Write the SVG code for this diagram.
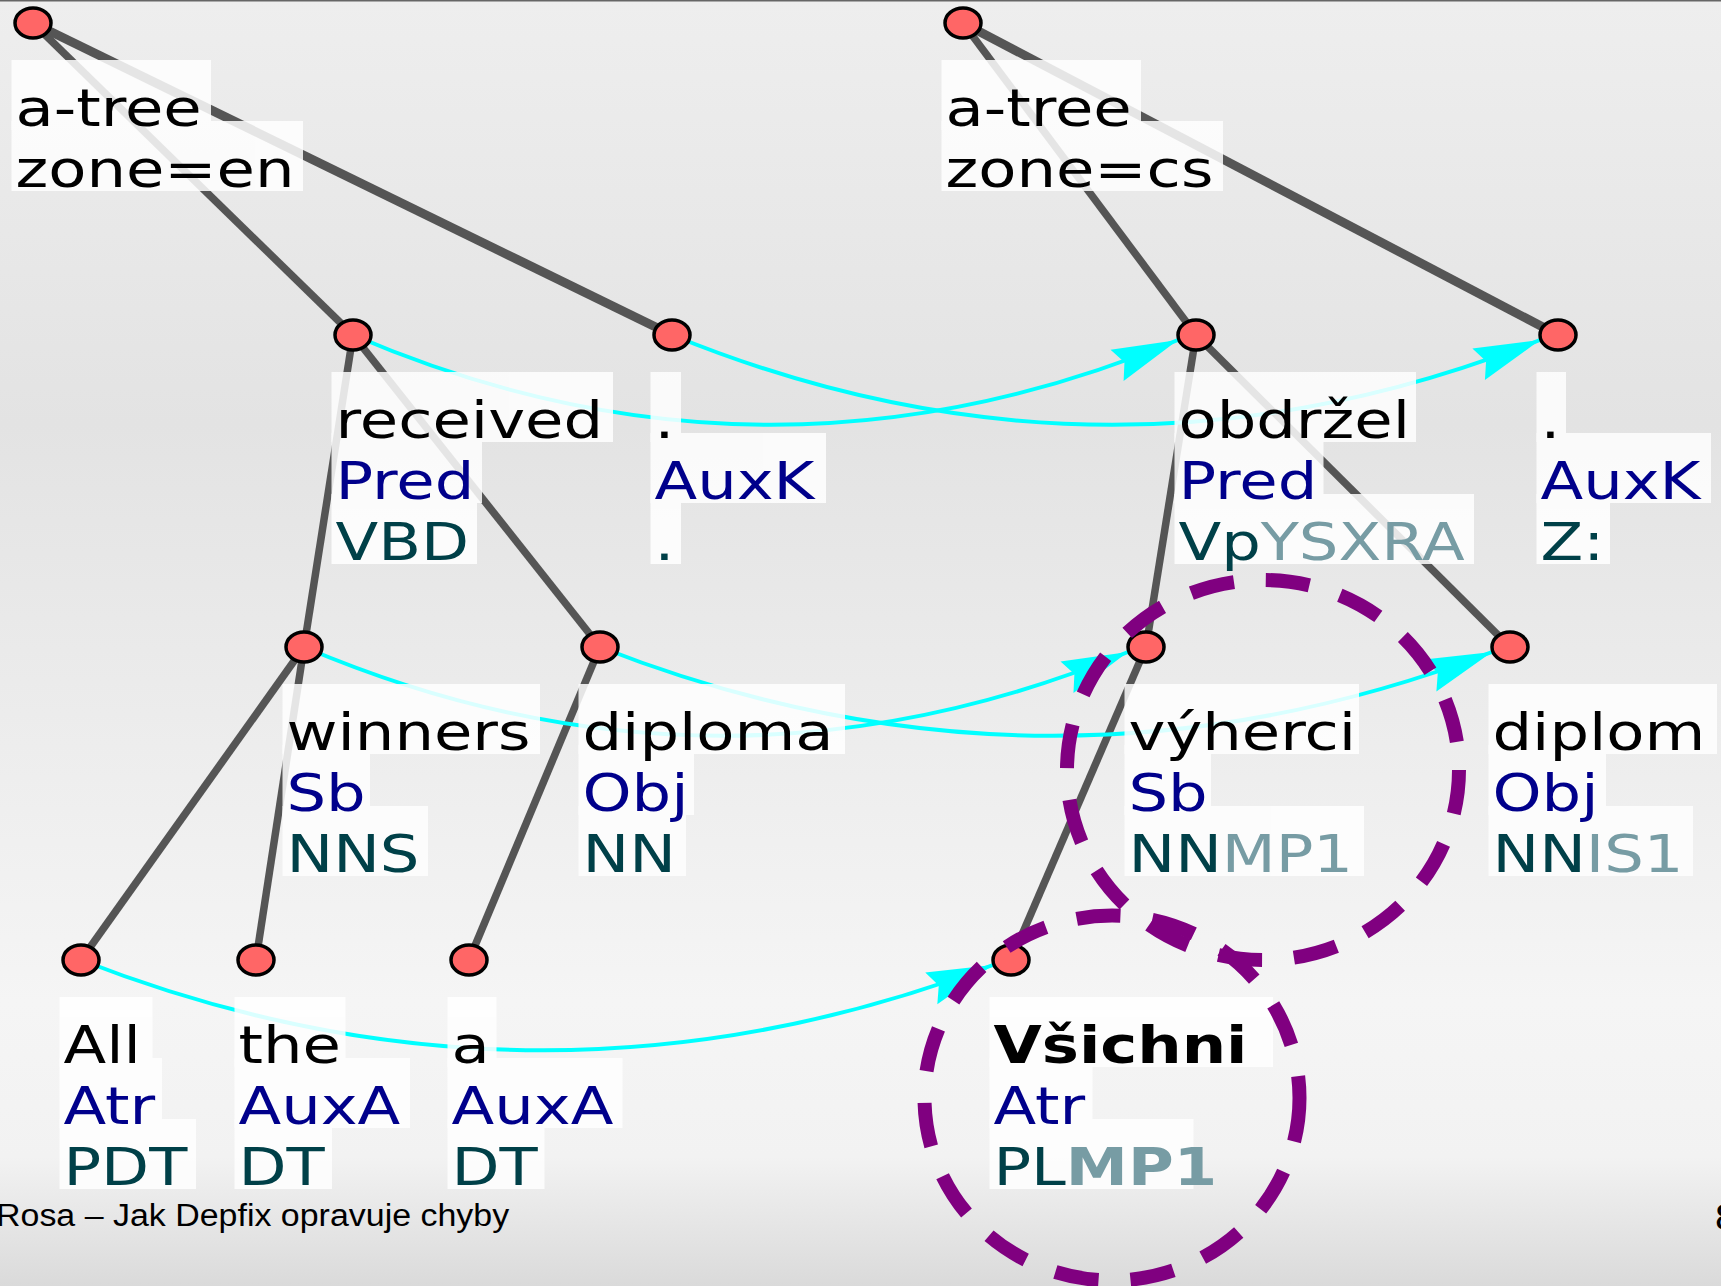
<svg xmlns="http://www.w3.org/2000/svg" width="1721" height="1286" viewBox="0 0 1721 1286">
<defs>
<linearGradient id="bg" x1="0" y1="0" x2="0" y2="1">
<stop offset="0" stop-color="#eeeeee"/>
<stop offset="0.33" stop-color="#e3e3e3"/>
<stop offset="0.78" stop-color="#f5f5f5"/>
<stop offset="0.9" stop-color="#f2f2f2"/>
<stop offset="1" stop-color="#dadada"/>
</linearGradient>
<marker id="arr" markerUnits="userSpaceOnUse" markerWidth="70" markerHeight="36" refX="66" refY="17" orient="auto" overflow="visible">
<path d="M0,0 L66,17 L0,34 L8,17 Z" fill="#00ffff"/>
</marker>
<style>
.edge{stroke:#555555;stroke-width:7.5;fill:none}
.wide{stroke-width:9}
.align{stroke:#00ffff;stroke-width:4;fill:none;marker-end:url(#arr)}
.boxes{opacity:0.85}
.boxes rect{fill:#ffffff}
.nd{fill:#ff6666;stroke:#000000;stroke-width:3.5}
text{font-family:"DejaVu Sans",sans-serif;font-size:52px}
.f{fill:#000000}
.a{fill:#00008b}
.t{fill:#004048}
.g{fill:#779ca4}
.b{font-weight:bold}
.ring{fill:none;stroke:#800080;stroke-width:14;stroke-dasharray:44 32}
.foot1{font-family:"Liberation Sans",Arial,sans-serif;font-size:31px;fill:#000000}
.foot2{font-family:"Liberation Sans",Arial,sans-serif;font-size:37px;fill:#000000}
</style>
</defs>
<rect x="0" y="0" width="1721" height="1286" fill="url(#bg)"/>
<rect x="0" y="0" width="1721" height="1.5" fill="#666666"/>

<g id="connectors">
<line class="edge" x1="33" y1="23" x2="353" y2="335"/>
<line class="edge wide" x1="33" y1="23" x2="672" y2="335"/>
<line class="edge" x1="353" y1="335" x2="304" y2="647"/>
<line class="edge" x1="353" y1="335" x2="600" y2="647"/>
<line class="edge" x1="304" y1="647" x2="81" y2="960"/>
<line class="edge" x1="304" y1="647" x2="256" y2="960"/>
<line class="edge" x1="600" y1="647" x2="469" y2="960"/>
<line class="edge" x1="963" y1="23" x2="1196" y2="335"/>
<line class="edge wide" x1="963" y1="23" x2="1558" y2="335"/>
<line class="edge" x1="1196" y1="335" x2="1146" y2="647"/>
<line class="edge" x1="1196" y1="335" x2="1510" y2="647"/>
<line class="edge" x1="1146" y1="647" x2="1011" y2="960"/>
<path class="align" d="M353,335 Q765,512 1178,340"/>
<path class="align" d="M672,335 Q1106,512 1540,340"/>
<path class="align" d="M304,647 Q716,822 1128,652"/>
<path class="align" d="M600,647 Q1046,822 1492,652"/>
<path class="align" d="M81,960 Q537,1138 993,965"/>
</g>

<g id="n-root-en">
<g class="boxes"><rect x="11.5" y="60" width="199.5" height="70"/><rect x="11.5" y="121" width="291.5" height="70"/></g>
<ellipse class="nd" cx="33" cy="23" rx="18" ry="15"/>
<g transform="scale(1.2 1)"><text class="f" x="12.92" y="126">a-tree</text><text class="f" x="12.92" y="187">zone=en</text></g>
</g>

<g id="n-root-cs">
<g class="boxes"><rect x="941.5" y="60" width="199.5" height="70"/><rect x="941.5" y="121" width="281.5" height="70"/></g>
<ellipse class="nd" cx="963" cy="23" rx="18" ry="15"/>
<g transform="scale(1.2 1)"><text class="f" x="787.92" y="126">a-tree</text><text class="f" x="787.92" y="187">zone=cs</text></g>
</g>

<g id="n-received">
<g class="boxes"><rect x="331.5" y="372" width="281.5" height="70"/><rect x="331.5" y="433" width="150.5" height="70"/><rect x="331.5" y="494" width="145.5" height="70"/></g>
<ellipse class="nd" cx="353" cy="335" rx="18" ry="15"/>
<g transform="scale(1.2 1)"><text class="f" x="279.58" y="438">received</text><text class="a" x="279.58" y="499">Pred</text><text class="t" x="279.58" y="560">VBD</text></g>
</g>

<g id="n-period-en">
<g class="boxes"><rect x="650.5" y="372" width="30.5" height="70"/><rect x="650.5" y="433" width="175.5" height="70"/><rect x="650.5" y="494" width="30.5" height="70"/></g>
<ellipse class="nd" cx="672" cy="335" rx="18" ry="15"/>
<g transform="scale(1.2 1)"><text class="f" x="545.42" y="438">.</text><text class="a" x="545.42" y="499">AuxK</text><text class="t" x="545.42" y="560">.</text></g>
</g>

<g id="n-obdrzel">
<g class="boxes"><rect x="1174.5" y="372" width="241.5" height="70"/><rect x="1174.5" y="433" width="149" height="70"/><rect x="1174.5" y="494" width="299.5" height="70"/></g>
<ellipse class="nd" cx="1196" cy="335" rx="18" ry="15"/>
<g transform="scale(1.2 1)"><text class="f" x="982.08" y="438">obdržel</text><text class="a" x="982.08" y="499">Pred</text><text class="t" x="982.08" y="560">Vp<tspan class="g">YSXRA</tspan></text></g>
</g>

<g id="n-period-cs">
<g class="boxes"><rect x="1536.5" y="372" width="29.5" height="70"/><rect x="1536.5" y="433" width="174.5" height="70"/><rect x="1536.5" y="494" width="73.5" height="70"/></g>
<ellipse class="nd" cx="1558" cy="335" rx="18" ry="15"/>
<g transform="scale(1.2 1)"><text class="f" x="1283.75" y="438">.</text><text class="a" x="1283.75" y="499">AuxK</text><text class="t" x="1283.75" y="560">Z:</text></g>
</g>

<g id="n-winners">
<g class="boxes"><rect x="282.5" y="684" width="257.5" height="70"/><rect x="282.5" y="745" width="87.5" height="70"/><rect x="282.5" y="806" width="145.5" height="70"/></g>
<ellipse class="nd" cx="304" cy="647" rx="18" ry="15"/>
<g transform="scale(1.2 1)"><text class="f" x="238.75" y="750">winners</text><text class="a" x="238.75" y="811">Sb</text><text class="t" x="238.75" y="872">NNS</text></g>
</g>

<g id="n-diploma">
<g class="boxes"><rect x="578.5" y="684" width="266.5" height="70"/><rect x="578.5" y="745" width="115.5" height="70"/><rect x="578.5" y="806" width="107.5" height="70"/></g>
<ellipse class="nd" cx="600" cy="647" rx="18" ry="15"/>
<g transform="scale(1.2 1)"><text class="f" x="485.42" y="750">diploma</text><text class="a" x="485.42" y="811">Obj</text><text class="t" x="485.42" y="872">NN</text></g>
</g>

<g id="n-vyherci">
<g class="boxes"><rect x="1124.5" y="684" width="234.5" height="70"/><rect x="1124.5" y="745" width="86.5" height="70"/><rect x="1124.5" y="806" width="239.5" height="70"/></g>
<ellipse class="nd" cx="1146" cy="647" rx="18" ry="15"/>
<g transform="scale(1.2 1)"><text class="f" x="940.42" y="750">výherci</text><text class="a" x="940.42" y="811">Sb</text><text class="t" x="940.42" y="872">NN<tspan class="g">MP1</tspan></text></g>
</g>

<g id="n-diplom">
<g class="boxes"><rect x="1488.5" y="684" width="228.5" height="70"/><rect x="1488.5" y="745" width="117.5" height="70"/><rect x="1488.5" y="806" width="204.5" height="70"/></g>
<ellipse class="nd" cx="1510" cy="647" rx="18" ry="15"/>
<g transform="scale(1.2 1)"><text class="f" x="1243.75" y="750">diplom</text><text class="a" x="1243.75" y="811">Obj</text><text class="t" x="1243.75" y="872">NN<tspan class="g">IS1</tspan></text></g>
</g>

<g id="n-all">
<g class="boxes"><rect x="59.5" y="997" width="93" height="70"/><rect x="59.5" y="1058" width="102.5" height="70"/><rect x="59.5" y="1119" width="136.5" height="70"/></g>
<ellipse class="nd" cx="81" cy="960" rx="18" ry="15"/>
<g transform="scale(1.2 1)"><text class="f" x="52.92" y="1063">All</text><text class="a" x="52.92" y="1124">Atr</text><text class="t" x="52.92" y="1185">PDT</text></g>
</g>

<g id="n-the">
<g class="boxes"><rect x="234.5" y="997" width="111" height="70"/><rect x="234.5" y="1058" width="175.5" height="70"/><rect x="234.5" y="1119" width="97.5" height="70"/></g>
<ellipse class="nd" cx="256" cy="960" rx="18" ry="15"/>
<g transform="scale(1.2 1)"><text class="f" x="198.75" y="1063">the</text><text class="a" x="198.75" y="1124">AuxA</text><text class="t" x="198.75" y="1185">DT</text></g>
</g>

<g id="n-a">
<g class="boxes"><rect x="447.5" y="997" width="49" height="70"/><rect x="447.5" y="1058" width="175" height="70"/><rect x="447.5" y="1119" width="97" height="70"/></g>
<ellipse class="nd" cx="469" cy="960" rx="18" ry="15"/>
<g transform="scale(1.2 1)"><text class="f" x="376.25" y="1063">a</text><text class="a" x="376.25" y="1124">AuxA</text><text class="t" x="376.25" y="1185">DT</text></g>
</g>

<g id="n-vsichni">
<g class="boxes"><rect x="989.5" y="997" width="283.5" height="70"/><rect x="989.5" y="1058" width="103" height="70"/><rect x="989.5" y="1119" width="204" height="70"/></g>
<ellipse class="nd" cx="1011" cy="960" rx="18" ry="15"/>
<g transform="scale(1.2 1)"><text class="f b" x="827.92" y="1063">Všichni</text><text class="a" x="827.92" y="1124">Atr</text><text class="t" x="827.92" y="1185">PL<tspan class="g b">MP1</tspan></text></g>
</g>

<g id="highlights">
<ellipse class="ring" cx="1263" cy="770" rx="196" ry="190"/>
<ellipse class="ring" cx="1112" cy="1098" rx="187.5" ry="182.5"/>
</g>

<g id="footer" transform="scale(1.095 1)">
<text class="foot1" x="-3.65" y="1226">Rosa – Jak Depfix opravuje chyby</text>
<text class="foot2" x="1566.2" y="1230">8</text>
</g>
</svg>
